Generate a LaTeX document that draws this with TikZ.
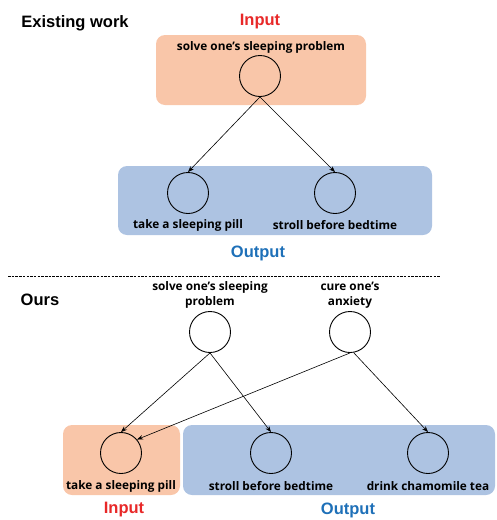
\documentclass[tikz,border=0pt]{standalone}
\usepackage{fontspec}
\setmainfont{Open Sans}
\newfontfamily\headfont{Liberation Sans}
\usetikzlibrary{arrows.meta}
\definecolor{inorange}{RGB}{249,198,169}
\definecolor{outblue}{RGB}{173,195,226}
\definecolor{inred}{RGB}{232,40,40}
\definecolor{outtxt}{RGB}{30,112,184}
\tikzset{
  circ/.style={circle,draw=black,line width=0.9pt,minimum size=41pt,inner sep=0pt},
  lbl/.style={font=\fontsize{11.8}{15}\selectfont\bfseries,inner sep=0pt,align=center},
  head/.style={font=\headfont\fontsize{16.5}{18}\selectfont\bfseries,inner sep=0pt},
  box/.style={rounded corners=9pt,draw=none},
  arr/.style={-{Stealth[length=6pt,width=4.5pt]},line width=0.6pt}
}
\begin{document}
\begin{tikzpicture}[x=1pt,y=-1pt]
\useasboundingbox (0,0) rectangle (496,520);
% top part
\fill[box,inorange] (156,35) rectangle (366,105);
\fill[box,outblue] (118,166) rectangle (432,235);
\node[head] (ew) at (75,23) {Existing work};
\node[head,text=inred] (in1) at (260,22) {Input};
\node[head,text=outtxt] (out1) at (258,253) {Output};
\node[lbl] (t1) at (261,47) {solve one’s sleeping problem};
\node[circ] (c1) at (260,76) {};
\node[circ] (c2) at (188,193) {};
\node[circ] (c3) at (335,193) {};
\node[lbl] (t2) at (188,225) {take a sleeping pill};
\node[lbl] (t3) at (335,225) {stroll before bedtime};
\draw[arr] (c1.south) -- (c2.north);
\draw[arr] (c1.south) -- (c3.north);
% dashed separator
\coordinate (dl) at (8,276);
\coordinate (dr) at (440,276);
\draw[dashed,dash pattern=on 2.5pt off 1.2pt,line width=0.6pt] (dl) -- (dr);
% bottom part
\node[head] (ours) at (40,300) {Ours};
\fill[box,inorange] (63,425) rectangle (180,495);
\fill[box,outblue] (183,425) rectangle (495,495);
\node[lbl] (ta) at (210,295) {solve one’s sleeping\\problem};
\node[lbl] (tb) at (350,295) {cure one’s\\anxiety};
\node[circ] (ca) at (210,332) {};
\node[circ] (cb) at (350,332) {};
\node[circ] (p1) at (121,453) {};
\node[circ] (p2) at (271,453) {};
\node[circ] (p3) at (428,453) {};
\node[lbl] (tp1) at (121,486) {take a sleeping pill};
\node[lbl] (tp2) at (271,486) {stroll before bedtime};
\node[lbl] (tp3) at (428,486) {drink chamomile tea};
\node[head,text=inred] (in2) at (124,510) {Input};
\node[head,text=outtxt] (out2) at (348,510) {Output};
\draw[arr] (ca.south) -- (p1.north);
\draw[arr] (ca.south) -- (p2.north);
\draw[arr] (cb.south) -- (p1.40);
\draw[arr] (cb.-80) -- (p3.north);
\end{tikzpicture}
\end{document}
